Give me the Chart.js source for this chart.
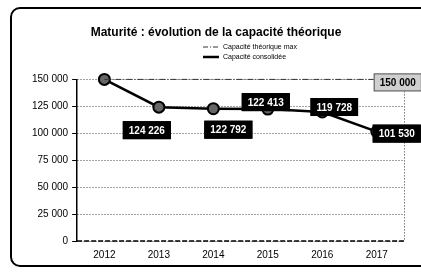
<!DOCTYPE html>
<html><head><meta charset="utf-8">
<script src="https://cdn.jsdelivr.net/npm/chart.js@4/dist/chart.umd.min.js"></script>
<style>html,body{margin:0;padding:0;background:#fff}#wrap{width:421px;height:272px;position:relative}canvas{display:block}</style>
</head><body><div id="wrap"><canvas id="c" width="421" height="272"></canvas></div>
<script>
// ---- data ----
const years = ['2012', '2013', '2014', '2015', '2016', '2017'];
const capaTheorique = [150000, 150000, 150000, 150000, 150000, 150000];
const capaConsolidee = [150000, 124226, 122792, 122413, 119728, 101530];
const yTickValues = [0, 25000, 50000, 75000, 100000, 125000, 150000];
const seriesNames = ['Capacité théorique max', 'Capacité consolidée'];
const chartTitle = 'Maturité : évolution de la capacité théorique';

// ---- label placement (style) ----
const labelOffsetsTheo = [null, null, null, null, null, [21, 3]];
const labelOffsetsCons = [null, [-12, 23], [15, 21], [-2, -7], [12, -5], [20, 2]];

const FONT = '"Liberation Sans", Arial, sans-serif';
const fmt = v => Math.round(v).toString().replace(/\B(?=(\d{3})+(?!\d))/g, ' ');

const framePlugin = {
  id: 'frame',
  beforeDraw(chart) {
    const ctx = chart.ctx;
    ctx.save();
    ctx.fillStyle = '#fff';
    ctx.fillRect(0, 0, chart.width, chart.height);
    ctx.strokeStyle = '#000';
    ctx.lineWidth = 2;
    ctx.beginPath();
    if (ctx.roundRect) ctx.roundRect(11, 8, 430, 258, 9); else ctx.rect(11, 8, 430, 258);
    ctx.stroke();
    ctx.restore();
  },
  beforeDatasetsDraw(chart) {
    const ctx = chart.ctx, a = chart.chartArea;
    ctx.save();
    ctx.strokeStyle = '#333';
    ctx.lineWidth = 1;
    ctx.setLineDash([1, 2]);
    ctx.beginPath();
    ctx.moveTo(a.right + 0.5, a.top);
    ctx.lineTo(a.right + 0.5, a.bottom);
    ctx.stroke();
    ctx.strokeStyle = '#000';
    ctx.lineWidth = 1.5;
    ctx.setLineDash([5, 2]);
    ctx.beginPath();
    ctx.moveTo(a.left, a.bottom);
    ctx.lineTo(a.right, a.bottom);
    ctx.stroke();
    ctx.restore();
  },
  afterDraw(chart) {
    const ctx = chart.ctx;
    ctx.save();
    const lx = 203, ly = [47, 57];
    ctx.font = '7px ' + FONT;
    ctx.textBaseline = 'middle';
    ctx.textAlign = 'left';
    ctx.fillStyle = '#000';
    ctx.strokeStyle = '#333'; ctx.lineWidth = 1; ctx.setLineDash([5, 2, 1, 2]);
    ctx.beginPath(); ctx.moveTo(lx, ly[0]); ctx.lineTo(lx + 17, ly[0]); ctx.stroke();
    ctx.setLineDash([]);
    ctx.fillText(chart.data.datasets[0].label, lx + 20, ly[0]);
    ctx.strokeStyle = '#000'; ctx.lineWidth = 2.5;
    ctx.beginPath(); ctx.moveTo(lx, ly[1]); ctx.lineTo(lx + 16, ly[1]); ctx.stroke();
    ctx.fillText(chart.data.datasets[1].label, lx + 20, ly[1]);
    ctx.restore();
  }
};

const labelPlugin = {
  id: 'vlabels',
  afterDatasetsDraw(chart) {
    const ctx = chart.ctx;
    const cfg = [
      { offs: labelOffsetsTheo, bg: '#cfcfcf', fg: '#000', border: '#555' },
      { offs: labelOffsetsCons, bg: '#000', fg: '#fff', border: '#000' }
    ];
    ctx.save();
    ctx.font = 'bold 10px ' + FONT;
    ctx.textAlign = 'center';
    ctx.textBaseline = 'middle';
    cfg.forEach((c, di) => {
      const meta = chart.getDatasetMeta(di);
      const vals = chart.data.datasets[di].data;
      meta.data.forEach((pt, j) => {
        const o = c.offs[j];
        if (!o) return;
        const txt = fmt(vals[j]);
        const w = ctx.measureText(txt).width + 12, h = 18;
        const cx = pt.x + o[0], cy = pt.y + o[1];
        ctx.fillStyle = c.bg;
        ctx.fillRect(cx - w / 2, cy - h / 2, w, h);
        ctx.strokeStyle = c.border; ctx.lineWidth = 1;
        ctx.strokeRect(cx - w / 2 + 0.5, cy - h / 2 + 0.5, w - 1, h - 1);
        ctx.fillStyle = c.fg;
        ctx.fillText(txt, cx, cy + 1);
      });
    });
    ctx.restore();
  }
};

new Chart(document.getElementById('c'), {
  type: 'line',
  data: {
    labels: years,
    datasets: [
      { label: seriesNames[0], data: capaTheorique, borderColor: '#333', borderWidth: 1,
        borderDash: [6, 2, 1, 2], pointRadius: 0, fill: false, tension: 0, clip: false },
      { label: seriesNames[1], data: capaConsolidee, borderColor: '#000', borderWidth: 2.5,
        pointRadius: 5.5, pointBorderWidth: 2, pointBorderColor: '#000', pointBackgroundColor: '#666',
        fill: false, tension: 0, clip: false }
    ]
  },
  options: {
    responsive: false,
    animation: false,
    devicePixelRatio: 1,
    layout: { padding: { left: 28, right: 17, top: 0, bottom: 3 } },
    plugins: {
      legend: { display: false },
      tooltip: { enabled: false },
      title: { display: true, text: chartTitle, color: '#000',
        font: { family: FONT, size: 12, weight: 'bold' }, padding: { top: 25, bottom: 40 } }
    },
    scales: {
      x: {
        offset: true,
        grid: { display: false, drawTicks: false },
        border: { display: false },
        ticks: { color: '#000', font: { family: FONT, size: 10 }, padding: 8 }
      },
      y: {
        min: 0, max: 150000,
        afterBuildTicks: s => { s.ticks = yTickValues.map(v => ({ value: v })); },
        grid: { color: '#444', lineWidth: 1, tickLength: 5, tickColor: '#000' },
        border: { display: true, color: '#000', width: 1.5, dash: [1, 2] },
        ticks: { color: '#000', font: { family: FONT, size: 10 }, padding: 4, callback: v => fmt(v) }
      }
    }
  },
  plugins: [framePlugin, labelPlugin]
});
</script>
</body></html>
